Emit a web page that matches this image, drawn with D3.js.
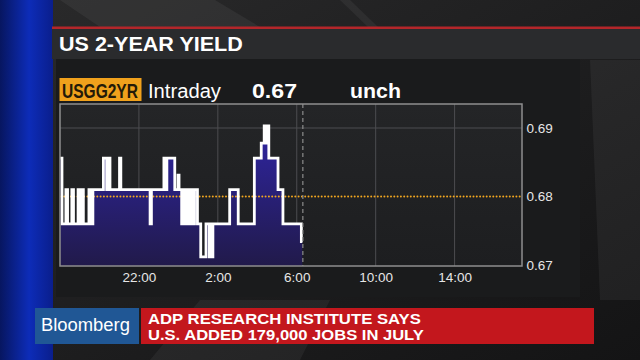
<!DOCTYPE html>
<html>
<head>
<meta charset="utf-8">
<script src="https://cdn.jsdelivr.net/npm/d3@7"></script>
<style>
  html, body { margin: 0; padding: 0; background: #1b1b1c; }
  svg { display: block; }
</style>
</head>
<body>
<svg id="chart" width="640" height="360"></svg>
<script>
// ---------- DATA ----------
const title = "US 2-YEAR YIELD";
const ticker = "USGG2YR";
const period = "Intraday";
const lastValue = "0.67";
const change = "unch";
const headline1 = "ADP RESEARCH INSTITUTE SAYS";
const headline2 = "U.S. ADDED 179,000 JOBS IN JULY";
const brand = "Bloomberg";

const times = ["18:00","18:06","18:18","18:23","18:36","18:41","18:55","18:59","19:04","19:11",
  "19:28","19:36","19:40","20:12","20:22","20:26","20:32","21:01","21:05","22:34",
  "22:38","23:16","23:22","23:25","23:49","23:59","00:02","00:10","00:14","00:18",
  "00:21","00:26","00:30","00:35","00:40","00:44","00:49","00:58","01:08","01:24",
  "01:34","01:37","01:42","01:45","02:36","03:02","03:51","04:12","04:21","04:26",
  "04:30","04:35","05:03","05:18","06:14","06:17"];
const yields = [0.6856,0.6760,0.6810,0.6760,0.6810,0.6760,0.6810,0.6760,0.6810,0.6760,
  0.6810,0.6760,0.6810,0.6856,0.6810,0.6856,0.6810,0.6856,0.6810,0.6760,
  0.6810,0.6856,0.6810,0.6856,0.6810,0.6831,0.6810,0.6760,0.6810,0.6760,
  0.6810,0.6760,0.6810,0.6760,0.6810,0.6760,0.6810,0.6760,0.6712,0.6760,
  0.6712,0.6760,0.6712,0.6760,0.6810,0.6760,0.6856,0.6878,0.6903,0.6878,
  0.6903,0.6856,0.6810,0.6760,0.6734,0.6734];
const prevClose = 0.68;
const nowTime = "06:17";
const xTickLabels = ["22:00","2:00","6:00","10:00","14:00"];
const yTickValues = [0.67, 0.68, 0.69];
const sessionStart = "18:00";
const sessionEnd = "17:25";

// ---------- HELPERS ----------
function parseT(s) {
  const [h, m] = s.split(":").map(Number);
  const day = h >= 18 ? 2 : 3;
  return new Date(2016, 7, day, h, m);
}
// place a text at (x, baseline y) and squeeze/stretch it horizontally to a given width
function fitText(parent, str, x0, y0, width, attrs) {
  const t = parent.append("text").text(str).attr("x", 0).attr("y", 0);
  Object.entries(attrs).forEach(([k, v]) => t.attr(k, v));
  const w = t.node().getComputedTextLength();
  const k = w > 0 ? width / w : 1;
  t.attr("transform", `translate(${x0},${y0}) scale(${k},1)`);
  return t;
}

const svg = d3.select("#chart");
const defs = svg.append("defs");

// background
const bgG = defs.append("linearGradient").attr("id","bg").attr("x1",0).attr("y1",0).attr("x2",1).attr("y2",1);
bgG.append("stop").attr("offset","0%").attr("stop-color","#2a2a2b");
bgG.append("stop").attr("offset","60%").attr("stop-color","#1c1c1d");
bgG.append("stop").attr("offset","100%").attr("stop-color","#141415");
svg.append("rect").attr("width",640).attr("height",360).attr("fill","url(#bg)");

// diagonal streaks
const streaks = [
  [[60,0],[215,0],[260,27],[100,27]],
  [[340,0],[350,0],[378,27],[368,27]],
  [[590,60],[640,60],[640,300],[600,300]],
  [[200,300],[330,300],[300,360],[150,360]]
];
svg.selectAll("polygon.streak").data(streaks).enter().append("polygon")
  .attr("points", d => d.map(p => p.join(",")).join(" "))
  .attr("fill", "#ffffff").attr("opacity", 0.05);

// blue strip on left
const blueG = defs.append("linearGradient").attr("id","blue").attr("x1",0).attr("y1",0).attr("x2",1).attr("y2",0);
blueG.append("stop").attr("offset","0%").attr("stop-color","#071660");
blueG.append("stop").attr("offset","55%").attr("stop-color","#0d2cb8");
blueG.append("stop").attr("offset","100%").attr("stop-color","#0a1e8c");
svg.append("rect").attr("x",0).attr("y",0).attr("width",53).attr("height",360).attr("fill","url(#blue)");

// panel
svg.append("rect").attr("x",56).attr("y",59).attr("width",524).attr("height",238).attr("fill","#1a1b1c");

// title bar
svg.append("rect").attr("x",52).attr("y",27).attr("width",588).attr("height",32).attr("fill","#2a2b2d");
svg.append("rect").attr("x",52).attr("y",26.5).attr("width",588).attr("height",2.5).attr("fill","#b3262a");
fitText(svg, title, 59, 50.5, 184, {fill:"#ffffff", "font-family":"Liberation Sans, Arial, sans-serif",
  "font-weight":"bold", "font-size":20});

// header row
svg.append("rect").attr("x",59.5).attr("y",78).attr("width",82).attr("height",23).attr("fill","#f0a11c");
fitText(svg, ticker, 62, 98, 76, {fill:"#241a08", "font-family":"Liberation Sans Narrow, Liberation Sans, Arial, sans-serif",
  "font-weight":"bold", "font-size":20});
fitText(svg, period, 148, 98, 73, {fill:"#ffffff", "font-family":"Liberation Sans, Arial, sans-serif", "font-size":20});
fitText(svg, lastValue, 252, 98, 45, {fill:"#ffffff", "font-family":"Liberation Sans, Arial, sans-serif",
  "font-weight":"bold", "font-size":21});
fitText(svg, change, 350, 98, 51, {fill:"#ffffff", "font-family":"Liberation Sans, Arial, sans-serif",
  "font-weight":"bold", "font-size":21});

// ---------- CHART ----------
const plot = {left: 60, right: 522, top: 104, bottom: 266};
const x = d3.scaleTime().domain([parseT(sessionStart), parseT(sessionEnd)]).range([plot.left, plot.right]);
const y = d3.scaleLinear().domain([0.67, 0.69]).range([265, 128]);

const plotG = defs.append("linearGradient").attr("id","plotbg").attr("x1",0).attr("y1",0).attr("x2",0).attr("y2",1);
plotG.append("stop").attr("offset","0%").attr("stop-color","#242527");
plotG.append("stop").attr("offset","100%").attr("stop-color","#1d1e20");
svg.append("rect").attr("x",plot.left).attr("y",plot.top).attr("width",plot.right-plot.left)
  .attr("height",plot.bottom-plot.top).attr("fill","url(#plotbg)");

// grid
const xTickDates = xTickLabels.map(parseT);
svg.selectAll("line.vgrid").data(xTickDates).enter().append("line")
  .attr("x1", d => x(d)).attr("x2", d => x(d)).attr("y1", plot.top).attr("y2", plot.bottom)
  .attr("stroke", "#4c4d50").attr("stroke-width", 1);
svg.append("line").attr("x1",plot.left).attr("x2",plot.right).attr("y1",y(0.69)).attr("y2",y(0.69))
  .attr("stroke","#4c4d50").attr("stroke-width",1);

// area + line
const data = times.map((t, i) => ({t: parseT(t), v: yields[i]}));
const areaG = defs.append("linearGradient").attr("id","areaFill").attr("gradientUnits","userSpaceOnUse")
  .attr("x1",0).attr("y1",y(0.69)).attr("x2",0).attr("y2",plot.bottom);
areaG.append("stop").attr("offset","0%").attr("stop-color","#2f25a2");
areaG.append("stop").attr("offset","100%").attr("stop-color","#211a4a");

const area = d3.area().x(d => x(d.t)).y0(plot.bottom).y1(d => y(d.v)).curve(d3.curveStepAfter);
const line = d3.line().x(d => x(d.t)).y(d => y(d.v)).curve(d3.curveStepAfter);

svg.append("path").datum(data).attr("d", area).attr("fill", "url(#areaFill)");

// previous close dotted line
svg.append("line").attr("x1",plot.left+1).attr("x2",plot.right).attr("y1",y(prevClose)).attr("y2",y(prevClose))
  .attr("stroke","#f2a720").attr("stroke-width",2).attr("stroke-dasharray","0,3.3").attr("stroke-linecap","round");

svg.append("path").datum(data).attr("d", line).attr("fill","none")
  .attr("stroke","#ffffff").attr("stroke-width",2.8).attr("stroke-linejoin","miter");

// now marker
svg.append("line").attr("x1",x(parseT(nowTime))+0.5).attr("x2",x(parseT(nowTime))+0.5)
  .attr("y1",plot.top).attr("y2",plot.bottom)
  .attr("stroke","#8c8c8c").attr("stroke-width",1.2).attr("stroke-dasharray","4,3");

// border
svg.append("rect").attr("x",plot.left).attr("y",plot.top).attr("width",plot.right-plot.left)
  .attr("height",plot.bottom-plot.top).attr("fill","none").attr("stroke","#8e8e8e").attr("stroke-width",1.5);

// axes
const xAxis = d3.axisBottom(x).tickValues(xTickDates).tickFormat((d, i) => xTickLabels[i]).tickSize(0).tickPadding(0);
const xg = svg.append("g").attr("transform", `translate(0,${plot.bottom})`).call(xAxis);
xg.select(".domain").remove();
xg.selectAll("text").attr("y", 11.5).attr("dy", "0.32em")
  .attr("fill","#e6e6e6").attr("font-family","Liberation Sans, Arial, sans-serif").attr("font-size",13.5);

const yAxis = d3.axisRight(y).tickValues(yTickValues).tickFormat(d3.format(".2f")).tickSize(0).tickPadding(0);
const yg = svg.append("g").attr("transform", `translate(${plot.right + 4.5},0)`).call(yAxis);
yg.select(".domain").remove();
yg.selectAll("text").attr("x", 0).attr("dy","0.32em")
  .attr("fill","#e6e6e6").attr("font-family","Liberation Sans, Arial, sans-serif").attr("font-size",13.5);

// ---------- LOWER THIRD ----------
svg.append("rect").attr("x",35).attr("y",308).attr("width",104).attr("height",36).attr("fill","#205795");
fitText(svg, brand, 41, 331, 89, {fill:"#ffffff", "font-family":"Liberation Sans, Arial, sans-serif", "font-size":19});
svg.append("rect").attr("x",141).attr("y",308).attr("width",453).attr("height",36).attr("fill","#c3171d");
fitText(svg, headline1, 148, 323.5, 273, {fill:"#ffffff", "font-family":"Liberation Sans Narrow, Liberation Sans, Arial, sans-serif",
  "font-weight":"bold", "font-size":15.5});
fitText(svg, headline2, 148, 339.5, 276, {fill:"#ffffff", "font-family":"Liberation Sans Narrow, Liberation Sans, Arial, sans-serif",
  "font-weight":"bold", "font-size":15.5});
</script>
</body>
</html>
